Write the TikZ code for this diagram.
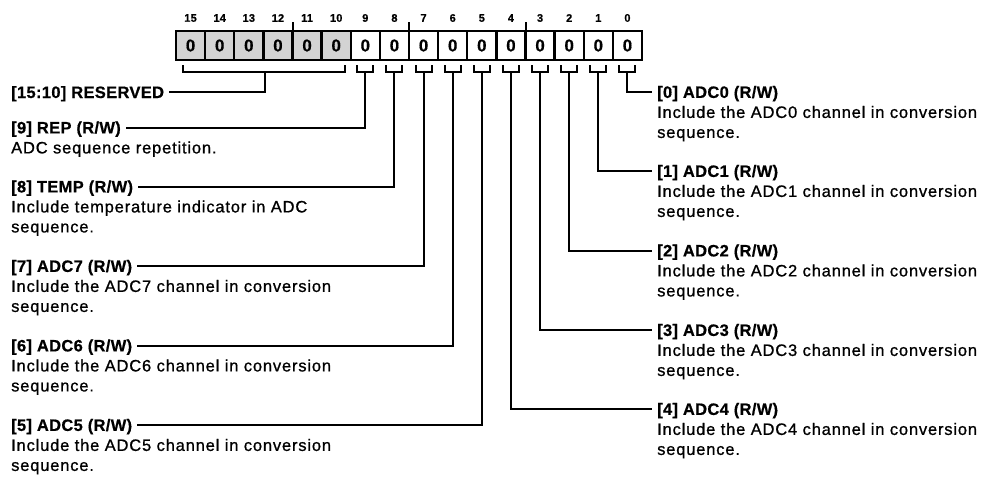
\documentclass[tikz,border=0pt]{standalone}
\usepackage{fontspec}
\setmainfont{Liberation Sans}
\newfontfamily\dscfont{Liberation Sans}[LetterSpace=5, FakeBold=0.9]
\newfontfamily\ttlfont{Liberation Sans Bold}[LetterSpace=2, FakeBold=0.6]
\definecolor{resgray}{RGB}{211,211,211}
\begin{document}
\begin{tikzpicture}[x=1pt,y=-1pt,
  cell/.style={draw, line width=2.4pt, outer sep=0pt, minimum width=29.125pt, minimum height=29pt, inner sep=0pt, font=\ttlfont\fontsize{17}{17}\selectfont},
  res/.style={cell, fill=resgray},
  bitnum/.style={font=\ttlfont\fontsize{11}{11}\selectfont, inner sep=0pt},
  wire/.style={line width=2pt},
  ttl/.style={font=\ttlfont\fontsize{16.5}{20}\selectfont, inner sep=0pt, text height=11.8pt, text depth=0pt},
  dsc/.style={font=\dscfont\fontsize{16.5}{20}\selectfont, inner sep=0pt, align=left}]
\useasboundingbox (0,0) rectangle (981,479);
\foreach \i in {15,14,...,0} {
  \pgfmathsetmacro\cx{176+(15-\i+0.5)*29.125}
  \ifnum\i>9 \node[res] (c\i) at (\cx,45.5) {0}; \else \node[cell] (c\i) at (\cx,45.5) {0}; \fi
  \node[bitnum] (n\i) at (\cx,18) {\i};
}
\draw[wire] (c12.north east) -- ++(0,-9);
\draw[wire] (c8.north east) -- ++(0,-9);
\draw[wire] (c4.north east) -- ++(0,-9);
% brackets
\foreach \i in {0,...,9} {
  \draw[wire] ([xshift=-8pt,yshift=-5pt]c\i.south) -- ++(0,7) -- ++(16,0) -- ++(0,-7);
  \coordinate (k\i) at ([yshift=-12pt]c\i.south);
}
\draw[wire] ([xshift=7pt,yshift=-5pt]c15.south west) -- ++(0,7) -- ([xshift=-6pt,yshift=-12pt]c10.south east) -- ++(0,-7);
\coordinate (kr) at (265,72);
% left labels
\node[ttl, anchor=base west] (tr) at (11,98) {[15:10] RESERVED};
\node[ttl, anchor=base west] (t9) at (11,133.4) {[9] REP (R/W)};
\node[dsc, anchor=base west] (d9) at ([yshift=-20pt]t9.base west) {ADC sequence repetition.};
\node[ttl, anchor=base west] (t8) at (11,192.4) {[8] TEMP (R/W)};
\node[dsc, anchor=base west] (d8) at ([yshift=-40pt]t8.base west) {Include temperature indicator in ADC\\sequence.};
\node[ttl, anchor=base west] (t7) at (11,271.9) {[7] ADC7 (R/W)};
\node[dsc, anchor=base west] (d7) at ([yshift=-40pt]t7.base west) {Include the ADC7 channel in conversion\\sequence.};
\node[ttl, anchor=base west] (t6) at (11,351.4) {[6] ADC6 (R/W)};
\node[dsc, anchor=base west] (d6) at ([yshift=-40pt]t6.base west) {Include the ADC6 channel in conversion\\sequence.};
\node[ttl, anchor=base west] (t5) at (11,430.9) {[5] ADC5 (R/W)};
\node[dsc, anchor=base west] (d5) at ([yshift=-40pt]t5.base west) {Include the ADC5 channel in conversion\\sequence.};
% right labels
\node[ttl, anchor=base west] (t0) at (657,97.9) {[0] ADC0 (R/W)};
\node[dsc, anchor=base west] (d0) at ([yshift=-40pt]t0.base west) {Include the ADC0 channel in conversion\\sequence.};
\node[ttl, anchor=base west] (t1) at (657,176.9) {[1] ADC1 (R/W)};
\node[dsc, anchor=base west] (d1) at ([yshift=-40pt]t1.base west) {Include the ADC1 channel in conversion\\sequence.};
\node[ttl, anchor=base west] (t2) at (657,256.4) {[2] ADC2 (R/W)};
\node[dsc, anchor=base west] (d2) at ([yshift=-40pt]t2.base west) {Include the ADC2 channel in conversion\\sequence.};
\node[ttl, anchor=base west] (t3) at (657,335.9) {[3] ADC3 (R/W)};
\node[dsc, anchor=base west] (d3) at ([yshift=-40pt]t3.base west) {Include the ADC3 channel in conversion\\sequence.};
\node[ttl, anchor=base west] (t4) at (657,414.9) {[4] ADC4 (R/W)};
\node[dsc, anchor=base west] (d4) at ([yshift=-40pt]t4.base west) {Include the ADC4 channel in conversion\\sequence.};
% connectors
\draw[wire] ([xshift=5pt]tr.east) -| (kr);
\foreach \i in {9,...,5} { \draw[wire] ([xshift=5pt]t\i.east) -| (k\i); }
\foreach \i in {0,...,4} { \draw[wire] (k\i) |- ([xshift=-5pt]t\i.west); }
\end{tikzpicture}
\end{document}
